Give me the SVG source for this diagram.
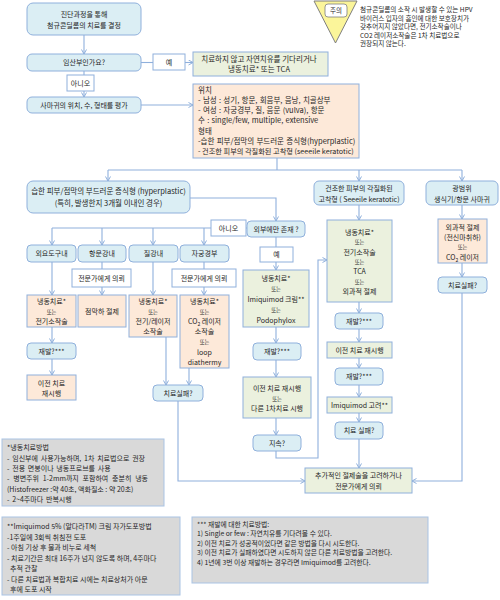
<svg xmlns="http://www.w3.org/2000/svg" width="500" height="600" viewBox="0 0 500 600">
<style>
text{font-family:"Noto Sans CJK KR","Noto Sans",sans-serif;font-size:7px;fill:#262626}
.m{text-anchor:middle}
.s{font-size:5.3px}
.l{font-size:7.5px}
.b{fill:#dbeef4;stroke:#8fb0dc;stroke-width:1}
.g{fill:#ebf1de;stroke:#8fb0dc;stroke-width:1}
.p{fill:#fde9d9;stroke:#8fb0dc;stroke-width:1}
.w{fill:#fff;stroke:#8fb0dc;stroke-width:1}
.n{fill:#d9d9d9;stroke:#a9c3e4;stroke-width:1}
.c{fill:none;stroke:#8fb0dc;stroke-width:1.1}
</style>
<defs>
<marker id="a" markerWidth="6" markerHeight="6" refX="5" refY="3" orient="auto" markerUnits="userSpaceOnUse"><path d="M0.5,0.5 L5,3 L0.5,5.5" fill="none" stroke="#8fb0dc" stroke-width="1"/></marker>
</defs>
<g id="connectors" class="c">
<path d="M84,35V54" marker-end="url(#a)"/>
<path d="M141,62.5H153"/>
<path d="M185,62.5H193" marker-end="url(#a)"/>
<path d="M84,71V97" marker-end="url(#a)"/>
<path d="M141,105H193" marker-end="url(#a)"/>
<path d="M277,158V170"/>
<path d="M108,170H462"/>
<path d="M108,170V181" marker-end="url(#a)"/>
<path d="M359,170V181" marker-end="url(#a)"/>
<path d="M462,170V181" marker-end="url(#a)"/>
<path d="M190,198H276V221" marker-end="url(#a)"/>
<path d="M247,228H52"/>
<path d="M52,228V245" marker-end="url(#a)"/>
<path d="M102,228V245" marker-end="url(#a)"/>
<path d="M153,228V245" marker-end="url(#a)"/>
<path d="M204,228V245" marker-end="url(#a)"/>
<path d="M52,262V295" marker-end="url(#a)"/>
<path d="M102,262V295" marker-end="url(#a)"/>
<path d="M153,262V295" marker-end="url(#a)"/>
<path d="M204,262V295" marker-end="url(#a)"/>
<path d="M52,327V343" marker-end="url(#a)"/>
<path d="M52,359V375" marker-end="url(#a)"/>
<path d="M166,337V385" marker-end="url(#a)"/>
<path d="M189,368V385" marker-end="url(#a)"/>
<path d="M178,401V481H305" marker-end="url(#a)"/>
<path d="M276,237V270" marker-end="url(#a)"/>
<path d="M276,327V343" marker-end="url(#a)"/>
<path d="M276,360V377" marker-end="url(#a)"/>
<path d="M276,418V435" marker-end="url(#a)"/>
<path d="M276,451V458H318V260H327" marker-end="url(#a)"/>
<path d="M359,205V220" marker-end="url(#a)"/>
<path d="M359,302V313" marker-end="url(#a)"/>
<path d="M359,329V342" marker-end="url(#a)"/>
<path d="M359,358V368" marker-end="url(#a)"/>
<path d="M359,385V397" marker-end="url(#a)"/>
<path d="M359,413V422" marker-end="url(#a)"/>
<path d="M359,439V468" marker-end="url(#a)"/>
<path d="M462,205V219" marker-end="url(#a)"/>
<path d="M462,263V277" marker-end="url(#a)"/>
<path d="M462,293V481H412" marker-end="url(#a)"/>
</g>
<g id="n1"><rect class="b" x="27" y="3" width="114" height="32" rx="6"/><text class="m" x="84" y="17">진단과정을 통해</text><text class="m" x="84" y="28">첨규콘딜롬의 치료를 결정</text></g>
<g id="n2"><rect class="b" x="27" y="54" width="114" height="17" rx="5"/><text class="m" x="84" y="65">임산부인가요?</text></g>
<g id="n3"><rect class="w" x="153" y="54" width="32" height="16"/><text class="m" x="169" y="64.5">예</text></g>
<g id="n4"><rect class="g" x="193" y="52" width="135" height="24"/><text class="m l" x="259" y="61.5">치료하지 않고 자연치유를 기다리거나</text><text class="m l" x="259" y="72">냉동치료* 또는 TCA</text></g>
<g id="n5"><rect class="w" x="67" y="75" width="27" height="16"/><text class="m" x="80.5" y="85.5">아니오</text></g>
<g id="n6"><rect class="b" x="27" y="97" width="114" height="16" rx="5"/><text class="m" x="84" y="107.5">사마귀의 위치, 수, 형태를 평가</text></g>
<g id="n7" style="word-spacing:0.6px"><rect class="p" x="193" y="84" width="166" height="74"/>
<text class="l" x="198" y="92.5">위치</text>
<text class="l" x="198" y="102.8">- 남성 : 성기, 항문, 회음부, 음낭, 치골상부</text>
<text class="l" x="198" y="113.1">- 여성 : 자궁경부, 질, 음문 (vulva), 항문</text>
<text class="l" x="198" y="123.4">수 : single/few, multiple, extensive</text>
<text class="l" x="198" y="133.7">형태</text>
<text class="l" x="198" y="144">-습한 피부/점막의 부드러운 증식형(hyperplastic)</text>
<text x="198" y="154.3" style="word-spacing:0;font-size:7.2px">- 건조한 피부의 각질화된 고착형 (seeeile keratotic)</text></g>
<g id="n8"><rect class="b" x="27" y="181" width="163" height="32" rx="6"/><text class="m l" x="108.5" y="194">습한 피부/점막의 부드러운 증식형 (hyperplastic)</text><text class="m l" x="108.5" y="206">(특히, 발생한지 3개월 이내인 경우)</text></g>
<g id="n9"><rect class="b" x="314" y="181" width="90" height="24" rx="5"/><text class="m" x="359" y="191">건조한 피부의 각질화된</text><text class="m" x="359" y="201.5">고착형 ( Seeeile keratotic)</text></g>
<g id="n10"><rect class="b" x="426" y="181" width="72" height="24" rx="5"/><text class="m" x="462" y="191">광범위</text><text class="m" x="462" y="201.5">생식기/항문 사마귀</text></g>
<g id="n11"><rect class="b" x="247" y="221" width="58" height="16" rx="4"/><text class="m" x="276" y="231.5">외부에만 존재 ?</text></g>
<g id="n12"><rect class="w" x="211" y="220" width="35" height="16"/><text class="m" x="228.5" y="230.5">아니오</text></g>
<g id="n13"><rect class="b" x="27" y="245" width="49" height="17" rx="4"/><text class="m" x="51.5" y="256">외요도구내</text></g>
<g id="n14"><rect class="b" x="78" y="245" width="48" height="17" rx="4"/><text class="m" x="102" y="256">항문강내</text></g>
<g id="n15"><rect class="b" x="129" y="245" width="49" height="17" rx="4"/><text class="m" x="153.5" y="256">질강내</text></g>
<g id="n16"><rect class="b" x="180" y="245" width="49" height="17" rx="4"/><text class="m" x="204.5" y="256">자궁경부</text></g>
<g id="n17"><rect class="w" x="72" y="269" width="59" height="18"/><text class="m" x="101.5" y="280.5">전문가에게 의뢰</text></g>
<g id="n18"><rect class="w" x="172" y="269" width="64" height="18"/><text class="m" x="204" y="280.5">전문가에게 의뢰</text></g>
<g id="n19"><rect class="p" x="27" y="295" width="49" height="32"/><text class="m" x="51.5" y="303.5">냉동치료*</text><text class="m s" x="51.5" y="313.5">또는</text><text class="m" x="51.5" y="324">전기소작술</text></g>
<g id="n20"><rect class="p" x="78" y="295" width="48" height="32"/><text class="m" x="102" y="313.5">점막하 절제</text></g>
<g id="n21"><rect class="p" x="129" y="295" width="48" height="42"/><text class="m" x="153" y="303.5">냉동치료*</text><text class="m s" x="153" y="313.5">또는</text><text class="m" x="153" y="324">전기/레이저</text><text class="m" x="153" y="334.3">소작술</text></g>
<g id="n22"><rect class="p" x="180" y="295" width="49" height="73"/><text class="m" x="204.5" y="303.5">냉동치료*</text><text class="m s" x="204.5" y="313.5">또는</text><text class="m" x="204.5" y="324">CO<tspan dy="1.5" font-size="5">2</tspan><tspan dy="-1.5"> 레이저</tspan></text><text class="m" x="204.5" y="334.3">소작술</text><text class="m s" x="204.5" y="344.3">또는</text><text class="m" x="204.5" y="354.9">loop</text><text class="m" x="204.5" y="365.2">diathermy</text></g>
<g id="n23"><rect class="b" x="27" y="343" width="49" height="16" rx="4"/><text class="m" x="51.5" y="353.5">재발?***</text></g>
<g id="n24"><rect class="p" x="27" y="375" width="49" height="25"/><text class="m" x="51.5" y="385.5">이전 치료</text><text class="m" x="51.5" y="396">재시행</text></g>
<g id="n25"><rect class="b" x="153" y="385" width="50" height="16" rx="4"/><text class="m" x="178" y="395.5">치료실패?</text></g>
<g id="n26"><rect class="w" x="260" y="247" width="33" height="15"/><text class="m" x="276.5" y="257">예</text></g>
<g id="n27"><rect class="g" x="243" y="270" width="66" height="57"/><text class="m" x="276" y="280.5">냉동치료*</text><text class="m s" x="276" y="290.5">또는</text><text class="m" x="276" y="301.5">Imiquimod 크림**</text><text class="m s" x="276" y="311.5">또는</text><text class="m" x="276" y="322.5">Podophylox</text></g>
<g id="n28"><rect class="b" x="253" y="343" width="48" height="17" rx="4"/><text class="m" x="277" y="354">재발?***</text></g>
<g id="n29"><rect class="g" x="243" y="377" width="68" height="41"/><text class="m" x="277" y="390.5">이전 치료 재시행</text><text class="m s" x="277" y="400.5">또는</text><text class="m" x="277" y="410.5">다른 1차치료 시행</text></g>
<g id="n30"><rect class="b" x="253" y="435" width="48" height="16" rx="4"/><text class="m" x="277" y="445.5">지속?</text></g>
<g id="n31"><rect class="g" x="327" y="220" width="65" height="82"/><text class="m" x="359.5" y="234.5">냉동치료*</text><text class="m s" x="359.5" y="244">또는</text><text class="m" x="359.5" y="254.5">전기소작술</text><text class="m s" x="359.5" y="264">또는</text><text class="m" x="359.5" y="274">TCA</text><text class="m s" x="359.5" y="283.5">또는</text><text class="m" x="359.5" y="293.5">외과적 절제</text></g>
<g id="n32"><rect class="b" x="335" y="313" width="48" height="16" rx="4"/><text class="m" x="359" y="323.5">재발?***</text></g>
<g id="n33"><rect class="g" x="327" y="342" width="65" height="16"/><text class="m" x="359.5" y="352.5">이전 치료 재시행</text></g>
<g id="n34"><rect class="b" x="335" y="368" width="48" height="17" rx="4"/><text class="m" x="359" y="379">재발?***</text></g>
<g id="n35"><rect class="g" x="327" y="397" width="65" height="16"/><text class="m" x="359.5" y="407.5">Imiquimod 고려**</text></g>
<g id="n36"><rect class="b" x="335" y="422" width="48" height="17" rx="4"/><text class="m" x="359" y="433">치료 실패?</text></g>
<g id="n37"><rect class="g" x="305" y="468" width="107" height="25"/><text class="m" x="358.5" y="478">추가적인 절제술을 고려하거나</text><text class="m" x="358.5" y="489">전문가에게 의뢰</text></g>
<g id="n38"><rect class="p" x="438" y="219" width="49" height="44"/><text class="m" x="462.5" y="229.5">외과적 절제</text><text class="m" x="462.5" y="239.5">(전신마취하)</text><text class="m s" x="462.5" y="249">또는</text><text class="m" x="462.5" y="260">CO<tspan dy="1.5" font-size="5">2</tspan><tspan dy="-1.5"> 레이저</tspan></text></g>
<g id="n39"><rect class="b" x="438" y="277" width="49" height="16" rx="4"/><text class="m" x="462.5" y="287.5">치료실패?</text></g>
<g id="caution"><polygon points="314,1 357,1 335.5,43" fill="#fbf59a" stroke="#7f7f7f" stroke-width="1"/><rect x="325" y="4" width="22" height="13" rx="3" fill="#fff" stroke="#7f7f7f" stroke-width="0.8"/><text class="m" x="336" y="13.3" style="font-size:6.5px">주의</text>
<text x="360" y="12.3" style="font-size:6.6px">첨규콘딜롬의 소작 시 발생할 수 있는 HPV</text>
<text x="360" y="20.8" style="font-size:6.6px">바이러스 입자의 흡인에 대한 보호장치가</text>
<text x="360" y="29.3" style="font-size:6.6px">갖추어지지 않았다면, 전기소작술이나</text>
<text x="360" y="37.8" style="font-size:6.6px">CO2 레이저소작술은 1차 치료법으로</text>
<text x="360" y="46.3" style="font-size:6.6px">권장되지 않는다.</text></g>
<g id="note1" style="word-spacing:1.2px"><rect class="n" x="2" y="439" width="162" height="67"/>
<text x="7" y="449.5">*냉동치료방법</text>
<text x="7" y="461">- 임신부에 사용가능하며, 1차 치료법으로 권장</text>
<text x="7" y="471">- 전용 면봉이나 냉동프로브를 사용</text>
<text x="7" y="481" style="word-spacing:2.2px">- 병변주위 1-2mm까지 포함하여 충분히 냉동</text>
<text x="7" y="491.5" style="word-spacing:0">(Histofreezer :약 40초, 액화질소 : 약 20초)</text>
<text x="7" y="502">-  2~4주마다 반복시행</text></g>
<g id="note2"><rect class="n" x="2" y="517" width="178" height="78"/>
<text x="7" y="529">**Imiquimod 5% (알다라TM) 크림 자가도포방법</text>
<text x="7" y="539.5">-1주일에 3회씩 취침전 도포</text>
<text x="7" y="550">- 아침 기상 후 물과 비누로 세척</text>
<text x="7" y="560.5">- 치료기간은 최대 16주가 넘지 않도록 하며, 4주마다</text>
<text x="10" y="571">추적 관찰</text>
<text x="7" y="581.5">- 다른 치료법과 복합치료 시에는 치료상처가 아문</text>
<text x="10" y="592">후에 도포 시작</text></g>
<g id="note3"><rect class="n" x="192" y="517" width="236" height="66"/>
<text x="197" y="526.5" style="font-size:6.8px">*** 재발에 대한 치료방법:</text>
<text x="197" y="536" style="font-size:6.8px">1)  Single or few : 자연치유를 기다려볼 수 있다.</text>
<text x="197" y="545.5" style="font-size:6.8px">2)  이전 치료가 성공적이었다면 같은 방법을 다시 시도한다.</text>
<text x="197" y="555" style="font-size:6.8px">3)  이전 치료가 실패하였다면 시도하지 않은 다른 치료방법을 고려한다.</text>
<text x="197" y="564.5" style="font-size:6.8px">4)  1년에 3번 이상 재발하는 경우라면 Imiquimod를 고려한다.</text></g>
</svg>
